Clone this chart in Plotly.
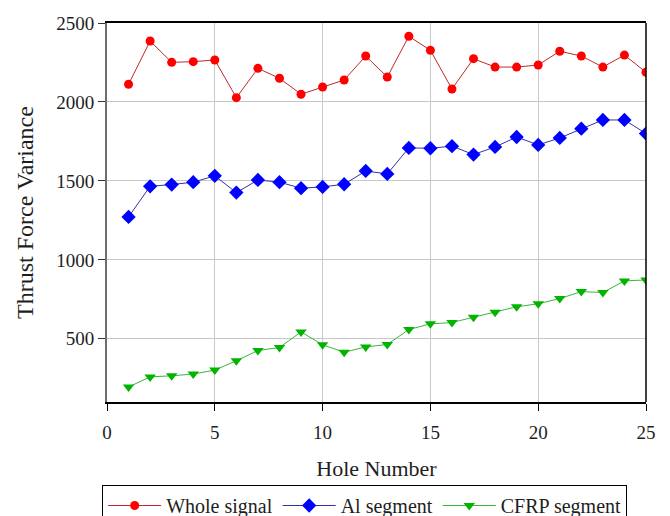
import plotly.graph_objects as go

holes = list(range(1, 26))
whole_signal = [2112, 2386, 2251, 2255, 2266, 2027, 2213, 2150, 2049, 2095, 2139, 2291, 2158,
                2416, 2327, 2082, 2274, 2221, 2221, 2234, 2321, 2291, 2221, 2297, 2188]
al_segment = [1272, 1466, 1477, 1492, 1532, 1426, 1506, 1492, 1454, 1462, 1479, 1563, 1544,
              1709, 1707, 1720, 1667, 1715, 1778, 1728, 1772, 1831, 1886, 1886, 1800]
cfrp_segment = [195, 259, 266, 277, 302, 361, 426, 445, 544, 462, 415, 449, 464,
                559, 595, 603, 637, 669, 703, 722, 755, 799, 793, 867, 873]

x_ticks = [0, 5, 10, 15, 20, 25]
y_ticks = [500, 1000, 1500, 2000, 2500]

ff = "Liberation Serif"
txt = "#1e1e1e"

fig = go.Figure()
fig.add_trace(go.Scatter(x=holes, y=whole_signal, name="Whole signal", mode="lines+markers",
                         line=dict(color="#c02828", width=1),
                         marker=dict(symbol="circle", size=9, color="#ff0000")))
fig.add_trace(go.Scatter(x=holes, y=al_segment, name="Al segment", mode="lines+markers",
                         line=dict(color="#3232a8", width=1),
                         marker=dict(symbol="diamond", size=11, color="#0000ff")))
fig.add_trace(go.Scatter(x=holes, y=cfrp_segment, name="CFRP segment", mode="lines+markers",
                         line=dict(color="#3cb43c", width=1),
                         marker=dict(symbol="triangle-down", size=10, color="#00b400")))

# page body adds an 8px offset, so the figure is sized to fill the rest of the window
fig.update_layout(
    width=662, height=508,
    margin=dict(l=99, r=24, t=15, b=114, autoexpand=False),
    paper_bgcolor="white", plot_bgcolor="white",
    font=dict(family=ff, size=19, color=txt),
    showlegend=True,
    legend=dict(orientation="h", x=-0.009, y=-0.219, xanchor="left", yanchor="top",
                bordercolor="black", borderwidth=1,
                font=dict(family=ff, size=20, color=txt),
                itemwidth=53, tracegroupgap=0),
    shapes=[dict(type="line", xref="paper", yref="paper", x0=1, x1=1, y0=0, y1=1,
                 line=dict(color="black", width=1.5))],
)
fig.update_xaxes(range=[0, 25], tickvals=x_ticks, ticks="outside", ticklen=7, tickcolor="black",
                 ticklabelstandoff=5,
                 showgrid=True, gridcolor="#c8c8c8", gridwidth=1,
                 showline=True, linecolor="black", linewidth=1.5, mirror=True,
                 zeroline=False, automargin=False,
                 title=dict(text="Hole Number", font=dict(family=ff, size=22, color=txt), standoff=19),
                 tickfont=dict(family=ff, size=19, color=txt))
fig.update_yaxes(range=[100, 2500], tickvals=y_ticks, ticks="outside", ticklen=7, tickcolor="#333",
                 showgrid=True, gridcolor="#c8c8c8", gridwidth=1,
                 showline=True, linecolor="#6e6e6e", linewidth=2, mirror=False,
                 zeroline=False, automargin=False,
                 title=dict(text="Thrust Force Variance", font=dict(family=ff, size=24, color=txt), standoff=16),
                 tickfont=dict(family=ff, size=19, color=txt))

fig.write_html("out.html")
